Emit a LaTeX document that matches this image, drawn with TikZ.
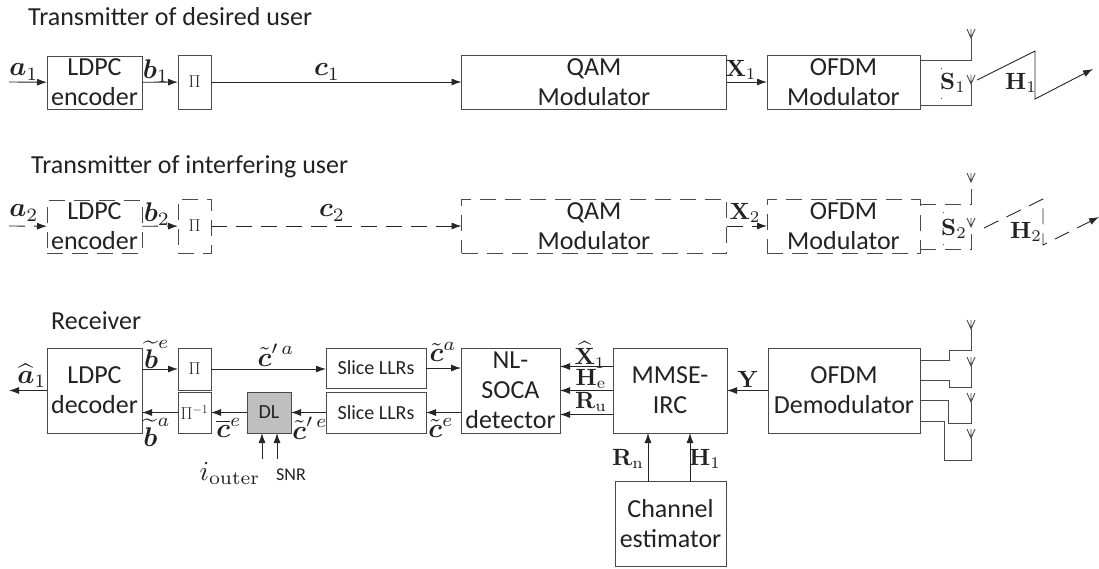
\documentclass[tikz,border=0pt]{standalone}
\usepackage{amsmath,amssymb}
\usepackage[no-math]{fontspec}
\setmainfont{Carlito}
\usetikzlibrary{arrows.meta,positioning}

\definecolor{inkline}{HTML}{4A4A4A}
\definecolor{inktext}{HTML}{222222}

\tikzset{
	wire/.style={draw=inkline, line width=.9pt},
	sig/.style={draw=black!85, line width=.9pt, -{Latex[length=10pt,width=7pt]}},
	gapdash/.style={dash pattern=on 16pt off 9pt},
	blockbox/.style={draw=inkline, line width=.9pt, outer sep=0pt, inner sep=0pt, align=center,
		text=inktext, font=\fontsize{26}{30}\selectfont},
	smallbox/.style={blockbox, font=\fontsize{20}{24}\selectfont},
	pibox/.style={blockbox, font=\fontsize{17}{20}\selectfont},
	caption/.style={anchor=west, inner sep=0pt, text=inktext, font=\fontsize{26}{30}\selectfont},
	sym/.style={inner sep=0pt, text=inktext, scale=2.7},
	capsym/.style={inner sep=0pt, text=inktext, scale=2.35},
	outersym/.style={inner sep=0pt, text=inktext, scale=2.75},
	antenna/.pic={\draw[wire] (-4,-9) -- (0,0) -- (4,-9) (0,0) -- (0,-9);}
}

\begin{document}
\begin{tikzpicture}[x=1pt,y=-1pt]
	\useasboundingbox (0,0) rectangle (1099,569);

	\node[caption] (title1) at (28,17) {Transmitter of desired user};
	\node[caption] (title2) at (31,167) {Transmitter of interfering user};
	\node[caption] (title3) at (51,321) {Receiver};

	% desired user
	\node[blockbox, minimum width=95pt, minimum height=53pt] (enc1) at (94.5,82.5) {LDPC\\encoder};
	\node[pibox, minimum width=33pt, minimum height=54pt] (pi1) at (194.5,82) {$\Pi$};
	\node[blockbox, minimum width=265pt, minimum height=54pt] (qam1) at (594,82) {QAM\\Modulator};
	\node[blockbox, minimum width=153pt, minimum height=54pt] (ofdm1) at (843.5,82) {OFDM\\Modulator};
	\coordinate (in1) at (9,82);
	\coordinate (ant1) at (971,38);
	\coordinate (ant2) at (971,84);
	\pic at (ant1) {antenna};
	\pic at (ant2) {antenna};
	\draw[sig] (in1) -- (enc1);
	\draw[sig] (enc1) -- (pi1);
	\draw[sig] (pi1) -- (qam1);
	\draw[sig] (qam1) -- (ofdm1);
	\draw[wire] ([yshift=-5pt]ofdm1.north east) -| (ant1);
	\draw[wire] ([yshift=4pt]ofdm1.south east) -| (ant2);
	\draw[wire, dash pattern=on 1pt off 14pt] (941.5,68) -- (941.5,100);
	\coordinate (h1a) at (977,80);
	\coordinate (h1b) at (1035,51);
	\coordinate (h1c) at (1035,99);
	\coordinate (h1d) at (1093,69);
	\draw[sig] (h1a) -- (h1b) -- (h1c) -- (h1d);
	\node[sym] (a1) at (24,72) {$\boldsymbol{a}_1$};
	\node[sym] (b1) at (156,71) {$\boldsymbol{b}_1$};
	\node[sym] (c1) at (327,72) {$\boldsymbol{c}_1$};
	\node[capsym] (x1) at (741,70) {$\mathbf{X}_1$};
	\node[capsym] (s1) at (953,83) {$\mathbf{S}_1$};
	\node[capsym] (h1) at (1021,83) {$\mathbf{H}_1$};

	% interfering user
	\node[blockbox, gapdash, minimum width=95pt, minimum height=53pt] (enc2) at (94.5,226.5) {LDPC\\encoder};
	\node[pibox, gapdash, minimum width=33pt, minimum height=54pt] (pi2) at (194.5,226) {$\Pi$};
	\node[blockbox, gapdash, minimum width=265pt, minimum height=54pt] (qam2) at (594,226) {QAM\\Modulator};
	\node[blockbox, gapdash, minimum width=153pt, minimum height=54pt] (ofdm2) at (843.5,226) {OFDM\\Modulator};
	\coordinate (in2) at (9,226);
	\coordinate (ant3) at (971,182);
	\coordinate (ant4) at (971,227);
	\pic at (ant3) {antenna};
	\pic at (ant4) {antenna};
	\draw[sig, gapdash] (in2) -- (enc2);
	\draw[sig, gapdash] (enc2) -- (pi2);
	\draw[sig, gapdash] (pi2) -- (qam2);
	\draw[sig, gapdash] (qam2) -- (ofdm2);
	\draw[wire, gapdash] ([yshift=-5pt]ofdm2.north east) -| (ant3);
	\draw[wire, gapdash] ([yshift=4pt]ofdm2.south east) -| (ant4);
	\draw[wire, dash pattern=on 1pt off 15pt] (943,212) -- (943,245);
	\coordinate (h2a) at (984,228);
	\coordinate (h2b) at (1043,199);
	\coordinate (h2c) at (1043,245);
	\coordinate (h2d) at (1099,217);
	\draw[sig, gapdash] (h2a) -- (h2b) -- (h2c) -- (h2d);
	\node[sym] (a2) at (24,213) {$\boldsymbol{a}_2$};
	\node[sym] (b2) at (157,214) {$\boldsymbol{b}_2$};
	\node[sym] (c2) at (332,213) {$\boldsymbol{c}_2$};
	\node[capsym] (x2) at (745,213) {$\mathbf{X}_2$};
	\node[capsym] (s2) at (954,229) {$\mathbf{S}_2$};
	\node[capsym] (h2) at (1026,232) {$\mathbf{H}_2$};

	% receiver
	\node[blockbox, minimum width=95pt, minimum height=85pt] (dec) at (94.5,390.5) {LDPC\\decoder};
	\node[pibox, minimum width=33pt, minimum height=42pt] (pi3) at (194.5,369) {$\Pi$};
	\node[pibox, minimum width=33pt, minimum height=41pt] (depi) at (194.5,412.5) {$\Pi^{-1}$};
	\node[smallbox, fill=black!25, minimum width=44pt, minimum height=41pt] (dl) at (269,412.5) {DL};
	\node[smallbox, minimum width=100pt, minimum height=40pt] (slice1) at (376,368) {Slice LLRs};
	\node[smallbox, minimum width=100pt, minimum height=41pt] (slice2) at (376,412.5) {Slice LLRs};
	\node[blockbox, minimum width=99pt, minimum height=85pt] (soca) at (510.5,390.5) {NL-\\SOCA\\detector};
	\node[blockbox, minimum width=114pt, minimum height=85pt] (mmse) at (670,390.5) {MMSE-\\IRC};
	\node[blockbox, minimum width=152pt, minimum height=85pt] (demod) at (844,390.5) {OFDM\\Demodulator};
	\node[blockbox, minimum width=111pt, minimum height=85pt] (chest) at (670.5,524) {Channel\\estimator};
	\coordinate (out) at (9,390.5);
	\coordinate (iter) at (262,459);
	\coordinate (snr) at (277,459);
	\draw[sig] (dec) -- (out);
	\draw[sig] (dec.east |- pi3) -- (pi3);
	\draw[sig] (pi3) -- (slice1.west |- pi3);
	\draw[sig] (slice1) -- (soca.west |- slice1);
	\draw[sig] (soca.west |- slice2) -- (slice2);
	\draw[sig] (slice2) -- (dl);
	\draw[sig] (dl) -- (depi);
	\draw[sig] (depi) -- (dec.east |- depi);
	\draw[sig] ([yshift=24pt]mmse.west) -- ([yshift=24pt]soca.east);
	\draw[sig] (mmse) -- (soca);
	\draw[sig] ([yshift=-24pt]mmse.west) -- ([yshift=-24pt]soca.east);
	\draw[sig] (demod) -- (mmse);
	\draw[sig] (iter) -- (iter |- dl.south);
	\draw[sig] (snr) -- (snr |- dl.south);
	\draw[sig] (chest.north -| 648,0) -- (mmse.south -| 648,0);
	\draw[sig] (chest.north -| 690,0) -- (mmse.south -| 690,0);

	\foreach \i/\ytop/\yfoot/\yout/\xturn in {5/320/350/360/949,6/357/387/380/949,7/393/423/400/948,8/429/460/421/944}{
		\coordinate (ant\i) at (971,\ytop+9);
		\coordinate (foot\i) at (971,\yfoot);
		\pic at (ant\i) {antenna};
		\draw[wire] (demod.east |- 0,\yout) -- (\xturn,\yout) |- (foot\i) -- (ant\i);
	}

	\node[sym] (ahat) at (32,376) {$\widehat{\boldsymbol{a}}_1$};
	\node[sym] (bte) at (157,354) {$\widetilde{\boldsymbol{b}}^{e}$};
	\node[sym] (bta) at (157,432) {$\widetilde{\boldsymbol{b}}^{a}$};
	\node[sym] (cpa) at (276,355) {$\tilde{\boldsymbol{c}}'^{\,a}$};
	\node[sym] (cta) at (443,352) {$\tilde{\boldsymbol{c}}^{a}$};
	\node[sym] (cte) at (441,428) {$\tilde{\boldsymbol{c}}^{e}$};
	\node[sym] (cbe) at (229,428) {$\overline{\boldsymbol{c}}^{e}$};
	\node[sym] (cpe) at (310,428) {$\tilde{\boldsymbol{c}}'^{\,e}$};
	\node[outersym] (iout) at (230,473) {$i_{\mathrm{outer}}$};
	\node[inner sep=0pt, text=inktext, font=\fontsize{18}{22}\selectfont] (snrlab) at (291,475) {SNR};
	\node[capsym] (xhat) at (590,355) {$\widehat{\mathbf{X}}_1$};
	\node[capsym] (he) at (591,379) {$\mathbf{H}_{\mathrm{e}}$};
	\node[capsym] (ru) at (591,402) {$\mathbf{R}_{\mathrm{u}}$};
	\node[capsym] (rn) at (628,459) {$\mathbf{R}_{\mathrm{n}}$};
	\node[capsym] (h3) at (705,459) {$\mathbf{H}_1$};
	\node[capsym] (y) at (748,379) {$\mathbf{Y}$};
\end{tikzpicture}
\end{document}
